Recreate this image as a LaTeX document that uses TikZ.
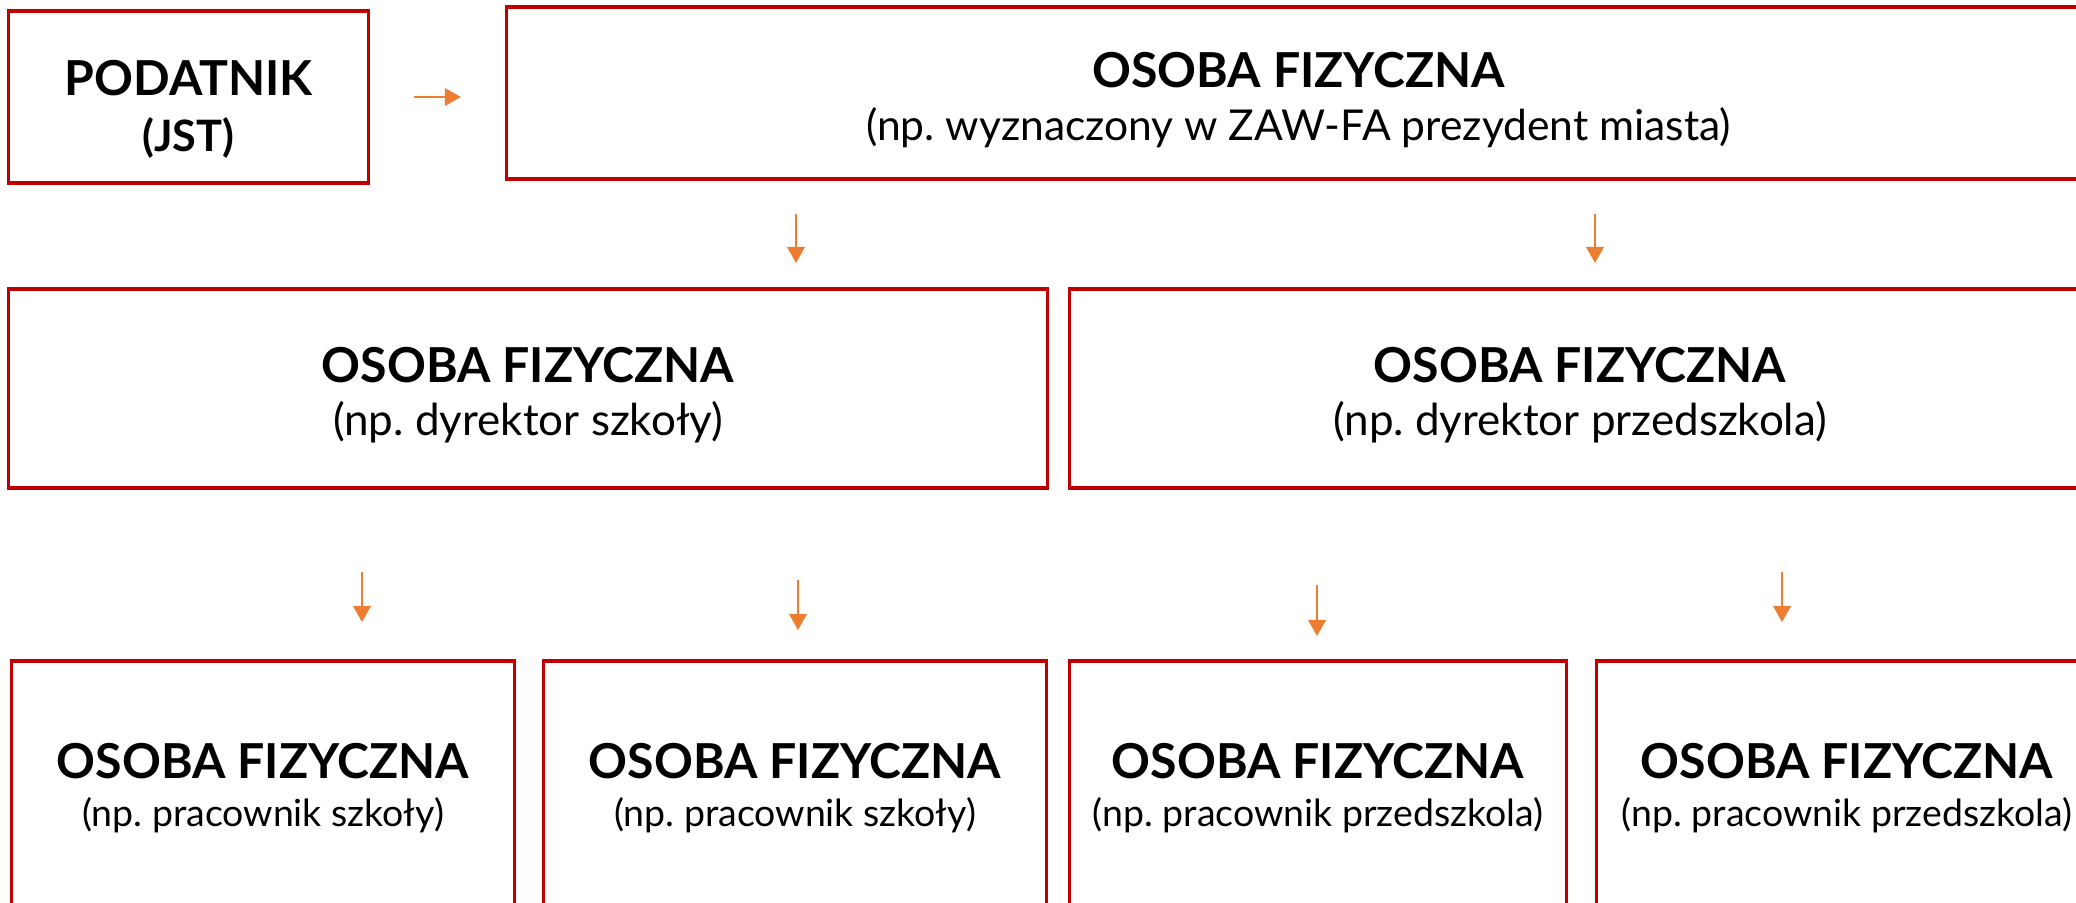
\documentclass[tikz,border=0pt]{standalone}
\usepackage{fontspec}
\setmainfont{Lato}
\usetikzlibrary{arrows.meta}
\definecolor{ramka}{HTML}{C00000}
\definecolor{pomarancz}{HTML}{ED7D31}
\frenchspacing
\newcommand\tytul[1]{{\fontsize{13.7}{17}\selectfont\bfseries #1}}
\newcommand\jst[1]{{\fontsize{12.3}{15}\selectfont\bfseries #1}}
\newcommand\opis[2][12.5]{{\fontsize{#1}{16}\selectfont #2}}
\newcommand\opismaly[1]{{\fontsize{10.65}{14}\selectfont #1}}

\begin{document}
\begin{tikzpicture}[x=0.01cm,y=-0.01cm,
    pole/.style={draw=ramka, line width=0.9pt, align=center, inner sep=0pt},
    strz/.style={draw=pomarancz, line width=0.7pt, -{Triangle[width=5pt,length=4.6pt]}}]
    \useasboundingbox (0,0) rectangle (2076,902);
    \clip (0,0) rectangle (2076,902);

    % gorny rzad
    \node[pole, minimum width=3.59cm, minimum height=1.72cm] (podatnik) at (188.5,97)
        {\tytul{\rule{0pt}{17pt}PODATNIK}\\[4pt] \jst{(JST)}};
    \node[pole, minimum width=15.83cm, minimum height=1.72cm] (osoba) at (1298.5,93)
        {\tytul{\rule{0pt}{14pt}OSOBA FIZYCZNA}\\[3pt] \opis[12.1]{(np. wyznaczony w ZAW-FA prezydent miasta)}};
    \draw[strz] ([xshift=0.44cm]podatnik.east) -- ([xshift=-0.44cm]podatnik.east -| osoba.west);

    % dyrektorzy
    \node[pole, minimum width=10.38cm, minimum height=1.99cm] (dyrSzkoly) at (528,388.5)
        {\tytul{\rule{0pt}{14pt}OSOBA FIZYCZNA}\\[3pt] \opis{(np. dyrektor szkoły)}};
    \node[pole, minimum width=10.2cm, minimum height=1.99cm] (dyrPrzedszkola) at (1580,388.5)
        {\tytul{\rule{0pt}{14pt}OSOBA FIZYCZNA}\\[3pt] \opis{(np. dyrektor przedszkola)}};

    \coordinate (s1a) at (796,214);  \coordinate (s1b) at (796,263);
    \coordinate (s2a) at (1595,214); \coordinate (s2b) at (1595,263);
    \draw[strz] (s1a) -- (s1b);
    \draw[strz] (s2a) -- (s2b);

    % pracownicy
    \node[pole, minimum width=5.02cm, minimum height=2.54cm] (pracSzkoly1) at (263,788)
        {\tytul{OSOBA FIZYCZNA}\\[1.5pt] \opismaly{(np. pracownik szkoły)}};
    \node[pole, minimum width=5.02cm, minimum height=2.54cm] (pracSzkoly2) at (795,788)
        {\tytul{OSOBA FIZYCZNA}\\[1.5pt] \opismaly{(np. pracownik szkoły)}};
    \node[pole, minimum width=4.96cm, minimum height=2.54cm] (pracPrzedszkola1) at (1318,788)
        {\tytul{OSOBA FIZYCZNA}\\[1.5pt] \opismaly{(np. pracownik przedszkola)}};
    \node[pole, minimum width=5.0cm, minimum height=2.54cm] (pracPrzedszkola2) at (1847,788)
        {\tytul{OSOBA FIZYCZNA}\\[1.5pt] \opismaly{(np. pracownik przedszkola)}};

    \coordinate (s3a) at (362,572);  \coordinate (s3b) at (362,622);
    \coordinate (s4a) at (798,580);  \coordinate (s4b) at (798,630);
    \coordinate (s5a) at (1317,585); \coordinate (s5b) at (1317,636);
    \coordinate (s6a) at (1782,572); \coordinate (s6b) at (1782,622);
    \draw[strz] (s3a) -- (s3b);
    \draw[strz] (s4a) -- (s4b);
    \draw[strz] (s5a) -- (s5b);
    \draw[strz] (s6a) -- (s6b);
\end{tikzpicture}
\end{document}
